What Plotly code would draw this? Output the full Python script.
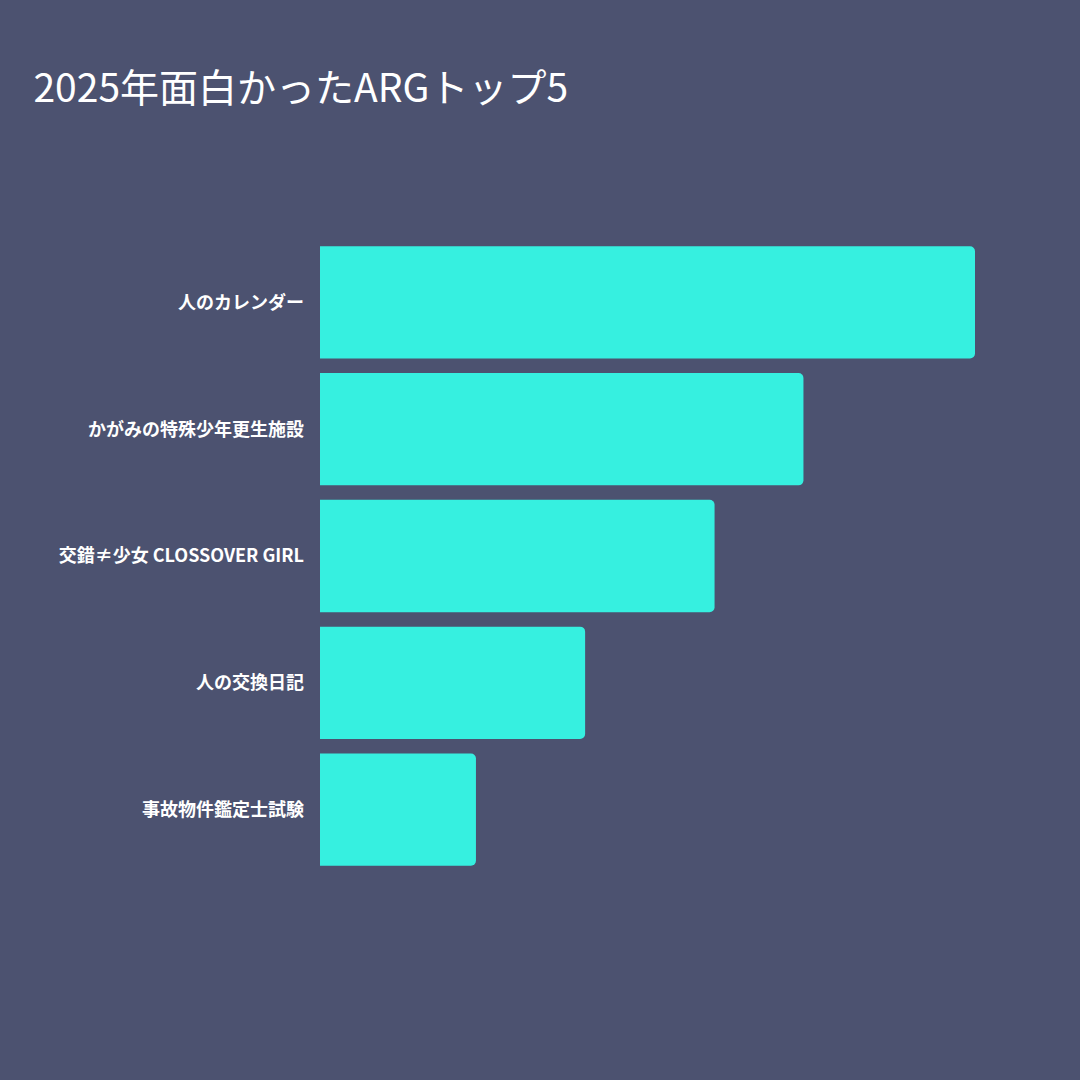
import plotly.graph_objects as go

# ランキング（スコアは画像の棒の長さから推定）
titles = ['人のカレンダー', 'かがみの特殊少年更生施設', '交錯≠少女 CLOSSOVER GIRL', '人の交換日記', '事故物件鑑定士試験']
scores = [42, 31, 25.3, 17, 10]

bg = '#4c5270'
bar_color = '#36f0e0'

fig = go.Figure(go.Bar(
    x=scores, y=titles, orientation='h',
    marker=dict(color=bar_color, line=dict(width=0), cornerradius=5),
    hoverinfo='skip',
))

fig.update_layout(
    width=1080, height=1080,
    paper_bgcolor=bg, plot_bgcolor=bg,
    margin=dict(l=320, r=105, t=239, b=207),
    bargap=0.114,
    showlegend=False,
    font=dict(family='Noto Sans CJK JP', color='white'),
    title=dict(text='2025年面白かったARGトップ5', xref='container', x=0.031, xanchor='left',
               yref='container', y=0.918, yanchor='middle',
               font=dict(size=39, color='white', family='Noto Sans CJK JP')),
)
fig.update_xaxes(visible=False, range=[0, max(scores)], fixedrange=True)
fig.update_yaxes(autorange='reversed', showgrid=False, zeroline=False, showline=False,
                 ticks='', ticklabelstandoff=15, fixedrange=True,
                 tickfont=dict(size=18, color='white', family='Noto Sans CJK JP', weight='bold'))

# ページの余白を消す
fig.write_html('out.html', config={'displayModeBar': False},
               post_script="document.body.style.margin='0';")
